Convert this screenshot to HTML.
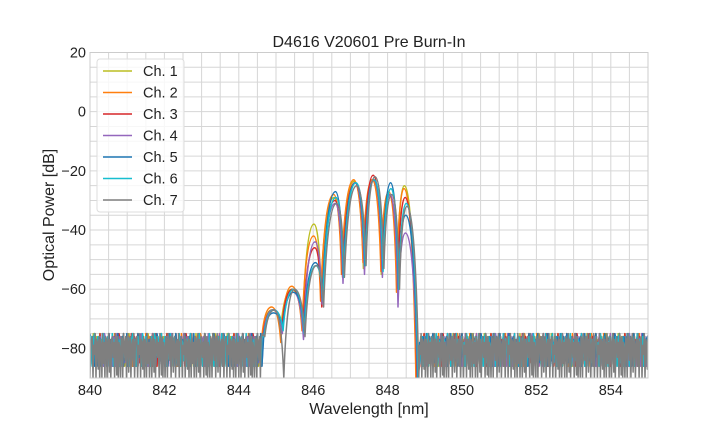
<!DOCTYPE html>
<html><head><meta charset="utf-8"><style>
html,body{margin:0;padding:0;background:#fff;}
svg{display:block;font-family:"Liberation Sans",Arial,sans-serif;}
</style></head><body>
<svg id="chart" width="720" height="432" viewBox="0 0 720 432">
<rect width="720" height="432" fill="#fff"/>
<g id="grid"></g>
<g id="series"></g>
<rect x="90" y="52.5" width="558" height="325.5" fill="none" stroke="#ccc" stroke-width="1"/>
<g id="ticks"></g>
<text x="369" y="47" text-anchor="middle" font-size="16" fill="#222">D4616 V20601 Pre Burn-In</text>
<text x="369" y="414" text-anchor="middle" font-size="16" fill="#222">Wavelength [nm]</text>
<text transform="translate(54,215) rotate(-90)" text-anchor="middle" font-size="16" fill="#222">Optical Power [dB]</text>
<g id="legend"></g>
</svg>
<script>
const channels=["Ch. 1","Ch. 2","Ch. 3","Ch. 4","Ch. 5","Ch. 6","Ch. 7"];
const colors=["#bcbd22","#ff7f0e","#d62728","#9467bd","#1f77b4","#17becf","#7f7f7f"];
const peakWl=[844.92,845.46,846.05,846.59,847.13,847.62,848.07,848.48];
const dipWl=[845.17,845.74,846.24,846.8,847.38,847.86,848.28];
const shifts=[-0.03,-0.04,-0.01,0,0.01,0.02,0.04];
const peaks=[
[-67,-60,-38,-29,-23.5,-23,-28,-25],
[-66,-59,-42,-28,-23,-23,-27,-26],
[-67,-60,-46,-30,-24,-21.5,-28,-29],
[-67,-61,-44,-31,-24,-23,-28,-41],
[-68,-61,-51,-27,-24,-23,-24,-35],
[-67,-60,-52,-29,-24,-23,-26,-31],
[-67,-60,-52,-31,-25,-22,-28,-32]];
const dips=[
[-72,-74,-60,-54,-53,-55,-58],
[-78,-74,-64,-55,-51,-54,-61],
[-73,-73,-66,-56,-51,-54,-60],
[-75,-77,-65,-58,-55,-56,-66],
[-73,-74,-63,-55,-52,-53,-60],
[-74,-75,-64,-56,-52,-54,-60],
[-90,-76,-66,-56,-52,-53,-60]];
const noise=[-76,-77,-90,-75,-78,-84,-76,-90,-77,-75,-88,-78,-76,-90,-79,-77,-86,-75,-90,-78,
-77,-76,-90,-79,-82,-75,-90,-77,-78,-87,-76,-90,-77,-79,-90,-75,-85,-78,-90,-76,
-77,-90,-78,-75,-88,-77,-90,-79,-76,-83,-78,-90,-75,-77,-89,-76,-90,-78,-80,-90];
const xTicks=[840,842,844,846,848,850,852,854];
const yTicks=[20,0,-20,-40,-60,-80];

const X0=90,X1=648,Y0=52.5,Y1=378;
const xs=v=>X0+(v-840)/15*(X1-X0);
const ys=v=>Y0+(20-v)/110*(Y1-Y0);
const NS="http://www.w3.org/2000/svg";
function mk(t,a,p){const e=document.createElementNS(NS,t);for(const k in a)e.setAttribute(k,a[k]);p.appendChild(e);return e;}
const grid=document.getElementById('grid'),ticks=document.getElementById('ticks');
for(let v=840.5;v<855;v+=0.5){const l=mk('line',{x1:xs(v),x2:xs(v),y1:Y0,y2:Y1,stroke:'#d6d6d6','stroke-width':1},grid);

}
for(let v=-85;v<20;v+=5){const l=mk('line',{x1:X0,x2:X1,y1:ys(v),y2:ys(v),stroke:'#d6d6d6','stroke-width':1},grid);

}
xTicks.forEach(v=>{const t=mk('text',{x:xs(v),y:395,'text-anchor':'middle','font-size':14.5,fill:'#222'},ticks);t.textContent=v;

});
yTicks.forEach(v=>{const t=mk('text',{x:86,y:ys(v)+5,'text-anchor':'end','font-size':14.5,fill:'#222'},ticks);t.textContent=v<0?'\u2212'+(-v):v;

});

const series=document.getElementById('series');
channels.forEach((name,c)=>{
  const sh=shifts[c];let d='';
  let k=0;
  const off=c*13;
  const step=c===6?0.02:0.03;
  for(let w=840;w<=844.62;w+=step,k++){let v=noise[(k+off)%noise.length];if(c<6&&v<-80)v=-80+(v+80)*0.6;d+=(d?'L':'M')+xs(w).toFixed(1)+','+ys(v).toFixed(1);}
  const pts=[];
  pts.push([xs(844.66+sh),ys(-76)]);
  for(let i=0;i<peakWl.length;i++){pts.push([xs(peakWl[i]+sh),ys(peaks[c][i]),'p']);if(i<dipWl.length)pts.push([xs(dipWl[i]+sh),ys(dips[c][i]),'d']);}
  pts.push([xs(848.8+sh),ys(-90),'d']);
  d+='L'+pts[0][0].toFixed(1)+','+pts[0][1].toFixed(1);
  for(let i=1;i<pts.length;i++){const a=pts[i-1],b=pts[i];const dx=b[0]-a[0];let c1,c2;
    if(b[2]==='p'){c1=[a[0]+0.2*dx,a[1]-0.7*(a[1]-b[1])];c2=[b[0]-0.45*dx,b[1]];}
    else{c1=[a[0]+0.45*dx,a[1]];c2=[b[0]-0.2*dx,b[1]-0.7*(b[1]-a[1])];}
    d+='C'+c1[0].toFixed(1)+','+c1[1].toFixed(1)+' '+c2[0].toFixed(1)+','+c2[1].toFixed(1)+' '+b[0].toFixed(1)+','+b[1].toFixed(1);}
  k=0;
  for(let w=848.86;w<=855.05;w+=step,k++){let v=noise[(k+off+5)%noise.length];if(c<6&&v<-80)v=-80+(v+80)*0.6;d+='L'+xs(w).toFixed(1)+','+ys(v).toFixed(1);}
  const p=mk('path',{d:d,fill:'none',stroke:colors[c],'stroke-width':1.5,'stroke-linejoin':'round'},series);
  
  
});
const clip=mk('clipPath',{id:'pc'},document.getElementById('chart'));
mk('rect',{x:X0,y:Y0,width:X1-X0,height:Y1-Y0},clip);
series.setAttribute('clip-path','url(#pc)');

const lg=document.getElementById('legend');
const box=mk('rect',{x:97,y:59,width:87,height:153,rx:3,fill:'#fff','fill-opacity':0.8,stroke:'#ddd'},lg);


channels.forEach((name,c)=>{const y=71+c*21.5;
  const g=mk('g',{},lg);
  
  
  mk('line',{x1:103,x2:132,y1:y,y2:y,stroke:colors[c],'stroke-width':1.5},g);
  const t=mk('text',{x:143,y:y+5,'font-size':14.5,fill:'#222'},g);t.textContent=name;});
</script>
</body></html>
